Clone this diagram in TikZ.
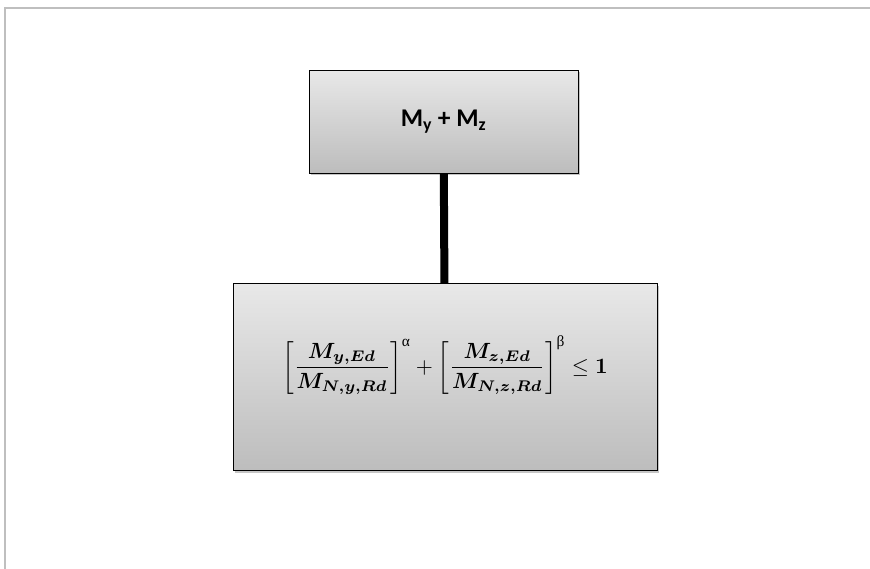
\documentclass[tikz,border=0pt]{standalone}
\usepackage{amsmath,amssymb}
\usepackage{bm}
\usepackage{graphicx}
\usepackage{fontspec}
\newfontfamily\calfont{Carlito}
\newfontfamily\greekfont{Liberation Serif}
\usepackage{tikz}
\usetikzlibrary{positioning,shadows}

\begin{document}
\begin{tikzpicture}[x=1pt,y=-1pt,node distance=110pt]
  \useasboundingbox (0,0) rectangle (870,568);
  \draw[black!25,line width=1.5pt] (5,575) |- (880,8);
  \node[draw,line width=0.8pt,top color=black!9,bottom color=black!26,drop shadow={opacity=0.45,shadow xshift=2pt,shadow yshift=-2pt},minimum width=269pt,minimum height=103pt,inner sep=0pt] (load) at (443.5,121.5) {\calfont\bfseries\fontsize{25.5}{30}\selectfont M\textsubscript{y} + M\textsubscript{z}};
  \node[draw,line width=0.8pt,top color=black!9,bottom color=black!26,drop shadow={opacity=0.45,shadow xshift=2pt,shadow yshift=-2pt},minimum width=424pt,minimum height=187pt,inner sep=0pt,text height=20pt,text depth=28pt,below=110pt of load,xshift=1.5pt] (check) {\scalebox{2.2}{$\left[\dfrac{\bm{M_{y,Ed}}}{\bm{M_{N,y,Rd}}}\right]^{\text{\greekfont α}}+\left[\dfrac{\bm{M_{z,Ed}}}{\bm{M_{N,z,Rd}}}\right]^{\text{\greekfont β}}\leq\bm{1}$}};
  \draw[line width=8pt](load)--(check);
\end{tikzpicture}
\end{document}
